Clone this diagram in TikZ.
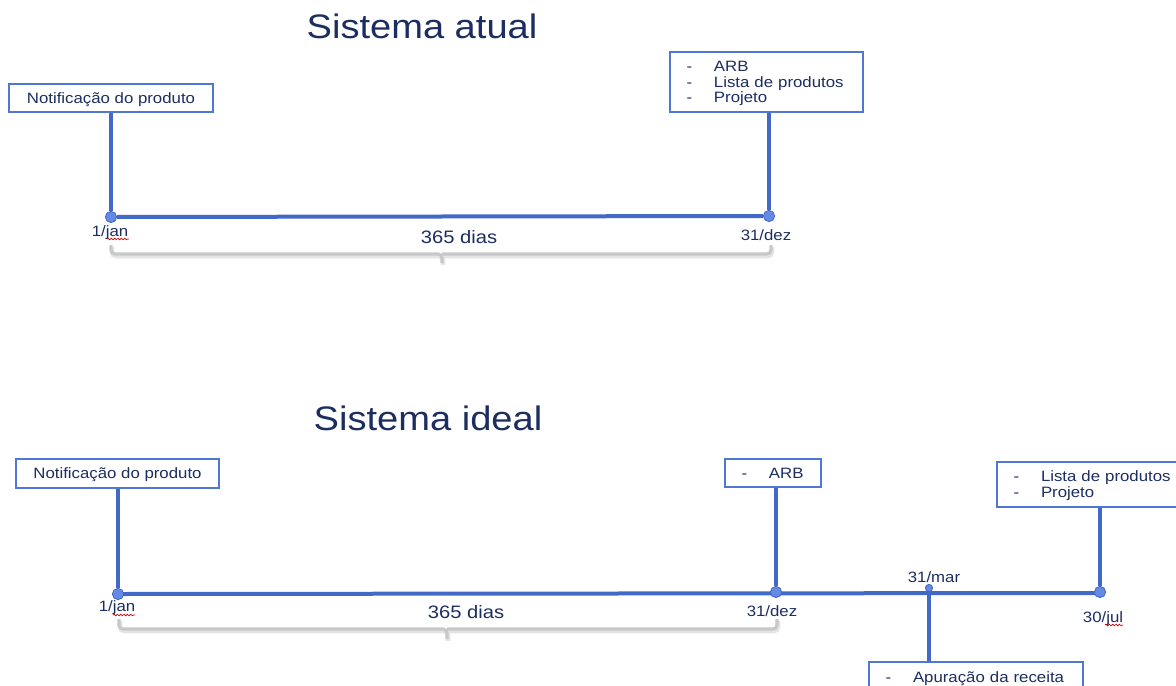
\documentclass[tikz,border=0pt]{standalone}
\usepackage{fontspec}
\setmainfont{Liberation Sans}[FakeStretch=1.12]
\usetikzlibrary{decorations.pathmorphing,backgrounds}
\definecolor{navy}{RGB}{28,46,96}
\definecolor{lineblue}{RGB}{66,104,200}
\definecolor{boxblue}{RGB}{80,120,210}
\definecolor{dotblue}{RGB}{100,138,228}
\definecolor{bracegrey}{RGB}{200,200,200}
\definecolor{braceshadow}{RGB}{228,228,228}
\newcommand\itm[1]{\makebox[20.5pt][l]{-}#1}
\newcommand\lowlines[1]{\raisebox{-1.5pt}[\height][\depth]{\renewcommand\arraystretch{1}\begin{tabular}{@{}l@{}}#1\end{tabular}}}
\tikzset{
  tline/.style={draw=lineblue, line width=3pt},
  boxnode/.style={draw=boxblue, line width=1.1pt, fill=white, text=navy, inner sep=0pt,
    font=\fontsize{11.25}{11.6}\selectfont},
  onebox/.style={text depth=0pt},
  listbox/.style={boxnode, align=left, inner xsep=12.5pt, inner ysep=0pt},
  dotnode/.style={circle, draw=lineblue, line width=0.6pt, fill=dotblue, minimum size=8.5pt, inner sep=0pt},
  smalldot/.style={dotnode, minimum size=5.5pt},
  datelabel/.style={text=navy, font=\fontsize{11.25}{13}\selectfont, inner sep=0pt},
  dayslabel/.style={text=navy, font=\fontsize{13.5}{15}\selectfont, inner sep=0pt},
  titlelabel/.style={text=navy, font=\fontsize{25.5}{28}\selectfont, inner sep=0pt},
  bracepath/.style={draw=bracegrey, line width=2.4pt, rounded corners=3pt},
  braceshade/.style={draw=braceshadow, line width=3.4pt, rounded corners=3pt},
  squig/.style={draw=red!80!black, line width=0.5pt, decorate, decoration={snake, amplitude=0.6pt, segment length=2.5pt}}
}
\begin{document}
\begin{tikzpicture}[x=0.75pt,y=-0.75pt]
\useasboundingbox (0,0) rectangle (1176,685);
\clip (0,0) rectangle (1176,685);

% ---------- Sistema atual ----------
\node[titlelabel] (t1) at (422,26) {Sistema atual};
\node[boxnode, onebox, minimum width=153pt, minimum height=21pt] (n1) at (111,98) {Notificação do produto};
\node[listbox, text width=119.75pt, minimum height=45pt] (b1) at (766.5,82)
  {\lowlines{\itm{ARB}\\\itm{Lista de produtos}\\\itm{Projeto}}};
\node[dotnode] (d1) at (111,217) {};
\node[dotnode] (d2) at (769,216) {};
\begin{scope}[on background layer]
  \draw[tline] (d1) -- (d2);
  \draw[tline] (d1) -- (d1 |- n1.south);
  \draw[tline] (d2) -- (d2 |- b1.south);
\end{scope}
\node[datelabel] (l1) at (110,233) {1/jan};
\node[datelabel] (l2) at (766,235) {31/dez};
\node[dayslabel] (s1) at (459,237) {365 dias};
\draw[braceshade] (112,247) |- (443,256) -- (443,265);
\draw[braceshade] (443,256) -| (772,247);
\draw[bracepath] (111,245) |- (442,254) -- (442,263);
\draw[bracepath] (442,254) -| (771,245);
\draw[squig] (107,239) -- (129,239);

% ---------- Sistema ideal ----------
\node[titlelabel] (t2) at (428,418) {Sistema ideal};
\node[boxnode, onebox, minimum width=152.25pt, minimum height=21.75pt] (n2) at (117.5,473.5) {Notificação do produto};
\node[listbox, onebox, text width=47pt, minimum height=21pt] (b2) at (773,473) {\itm{ARB}};
\node[listbox, text width=119.75pt, minimum height=33.75pt] (b3) at (1093.5,484.5)
  {\lowlines{\itm{Lista de produtos}\\\itm{Projeto}}};
\node[listbox, onebox, text width=135.5pt, minimum height=22pt] (b4) at (976,676.7) {\itm{Apuração da receita}};
\node[dotnode] (d3) at (118,594) {};
\node[dotnode] (d4) at (776,592) {};
\node[smalldot] (d5) at (929,588) {};
\node[dotnode] (d6) at (1100,592) {};
\begin{scope}[on background layer]
  \draw[tline] (118,594) -- (1100,593);
  \draw[tline] (d3) -- (d3 |- n2.south);
  \draw[tline] (d4) -- (d4 |- b2.south);
  \draw[tline] (d5) -- (d5 |- b4.north);
  \draw[tline] (d6) -- (d6 |- b3.south);
\end{scope}
\node[datelabel] (l3) at (117,608) {1/jan};
\node[datelabel] (l4) at (772,611) {31/dez};
\node[datelabel] (l5) at (934,577) {31/mar};
\node[datelabel] (l6) at (1103,619) {30/jul};
\node[dayslabel] (s2) at (466,612) {365 dias};
\draw[braceshade] (120,621) |- (448,631) -- (448,641);
\draw[braceshade] (448,631) -| (778,621);
\draw[bracepath] (119,619) |- (447,629) -- (447,639);
\draw[bracepath] (447,629) -| (777,619);
\draw[squig] (113,615) -- (135,615);
\draw[squig] (1105,625) -- (1123,625);
\end{tikzpicture}
\end{document}
